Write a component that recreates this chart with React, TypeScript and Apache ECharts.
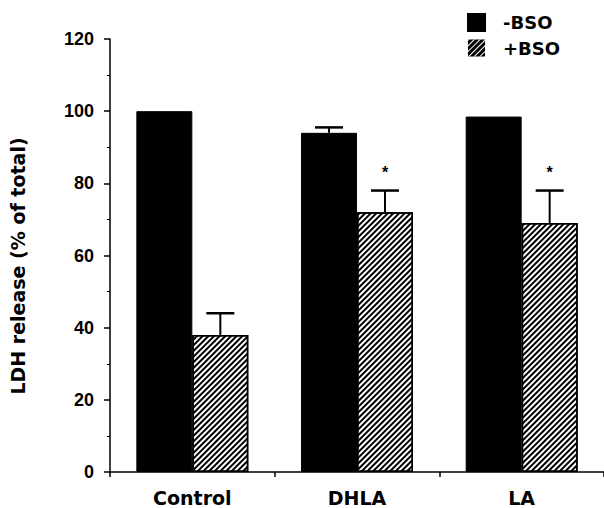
import React, { useEffect, useRef } from "react";
import * as echarts from "echarts";

const categories = ["Control", "DHLA", "LA"];
const seriesNames = ["-BSO", "+BSO"];
const minusBSO = [100, 94, 98.5];
const minusBSOErr = [0, 1.5, 0];
const plusBSO = [38, 72, 69];
const plusBSOErr = [6, 6, 9];
const significant = [false, true, true];
const yMin = 0;
const yMax = 120;
const yInterval = 20;
const yTitle = "LDH release (% of total)";

const BAR_FRAC = 0.68; // 1 - barCategoryGap

function errorRender(sign: number) {
  return (params: any, api: any) => {
    const i = api.value(0);
    const v = api.value(1);
    const e = api.value(2);
    const star = api.value(3);
    const bw = api.size([1, 0])[0];
    const off = (bw * BAR_FRAC) / 4 * sign;
    const capHalf = (bw * BAR_FRAC) / 8;
    const base = api.coord([i, v]);
    const top = api.coord([i, v + e]);
    const x = base[0] + off;
    const children: any[] = [];
    if (e > 0) {
      children.push({
        type: "line",
        shape: { x1: x, y1: base[1], x2: x, y2: top[1] },
        style: { stroke: "#000", lineWidth: 2 },
      });
      children.push({
        type: "line",
        shape: { x1: x - capHalf, y1: top[1], x2: x + capHalf, y2: top[1] },
        style: { stroke: "#000", lineWidth: 2.5 },
      });
    }
    if (star) {
      children.push({
        type: "text",
        style: {
          text: "*",
          x: x,
          y: top[1] - 18,
          align: "center",
          verticalAlign: "middle",
          font: 'bold 16px "Liberation Sans"',
          fill: "#000",
        },
      });
    }
    return { type: "group", children };
  };
}

export default function App() {
  const ref = useRef<HTMLDivElement>(null);
  useEffect(() => {
    if (!ref.current) return;
    const chart = echarts.init(ref.current, null, { renderer: "svg" });
    const hatch = {
      symbol: "rect",
      symbolSize: 1,
      color: "#000",
      backgroundColor: "#fff",
      dashArrayX: [1, 0],
      dashArrayY: [1.7, 1.5],
      rotation: -Math.PI / 4,
    };
    const legendHatch = {
      symbol: "rect",
      symbolSize: 1,
      color: "#fff",
      backgroundColor: "#000",
      dashArrayX: [1, 0],
      dashArrayY: [1, 3],
      rotation: -Math.PI / 4,
    };
    chart.setOption({
      animation: false,
      backgroundColor: "#fff",
      grid: { left: 110, right: 0, top: 39, bottom: 36, containLabel: false },
      legend: {
        data: [
          { name: seriesNames[0] },
          { name: seriesNames[1], itemStyle: { color: "#000", borderWidth: 0, decal: legendHatch } },
        ],
        orient: "vertical",
        left: 467,
        top: 13,
        padding: 0,
        itemWidth: 17,
        itemHeight: 17,
        itemGap: 7,
        icon: "rect",
        selectedMode: false,
        textStyle: {
          fontFamily: "DejaVu Sans",
          fontWeight: "bold",
          fontSize: 18,
          color: "#000",
          padding: [0, 0, 0, 13],
        },
      },
      graphic: [
        {
          type: "text",
          x: 18,
          y: 266,
          rotation: Math.PI / 2,
          style: {
            text: yTitle,
            font: 'bold 19px "DejaVu Sans"',
            align: "center",
            verticalAlign: "middle",
            fill: "#000",
          },
        },
      ],
      xAxis: {
        type: "category",
        data: categories,
        axisLine: { lineStyle: { color: "#000", width: 1.5 } },
        axisTick: { show: true, length: 5, interval: 0, lineStyle: { color: "#000", width: 1.5 } },
        axisLabel: {
          margin: 16,
          color: "#000",
          fontFamily: "DejaVu Sans",
          fontWeight: "bold",
          fontSize: 19,
          interval: 0,
        },
        splitLine: { show: false },
      },
      yAxis: {
        type: "value",
        min: yMin,
        max: yMax,
        interval: yInterval,
        axisLine: { show: true, lineStyle: { color: "#000", width: 1.5 } },
        axisTick: { show: true, length: 6, lineStyle: { color: "#000", width: 1.5 } },
        minorTick: { show: true, splitNumber: 2, length: 3, lineStyle: { color: "#000", width: 1 } },
        axisLabel: {
          margin: 16,
          color: "#000",
          fontFamily: "Liberation Sans",
          fontWeight: "bold",
          fontSize: 18,
        },
        splitLine: { show: false },
      },
      series: [
        {
          name: seriesNames[0],
          type: "bar",
          data: minusBSO,
          barGap: "0%",
          barCategoryGap: "32%",
          itemStyle: { color: "#000", borderColor: "#000", borderWidth: 1 },
        },
        {
          name: seriesNames[1],
          type: "bar",
          data: plusBSO,
          barGap: "0%",
          barCategoryGap: "32%",
          itemStyle: { color: "#fff", borderColor: "#000", borderWidth: 1.5, decal: hatch },
        },
        {
          type: "custom",
          silent: true,
          renderItem: errorRender(-1),
          data: minusBSO.map((v, i) => [i, v, minusBSOErr[i], 0]),
          z: 5,
        },
        {
          type: "custom",
          silent: true,
          renderItem: errorRender(1),
          data: plusBSO.map((v, i) => [i, v, plusBSOErr[i], significant[i] ? 1 : 0]),
          z: 5,
        },
      ],
    });
    return () => chart.dispose();
  }, []);
  return (
    <div
      ref={ref}
      style={{ position: "absolute", left: 0, top: 0, width: 604, height: 508 }}
    />
  );
}
